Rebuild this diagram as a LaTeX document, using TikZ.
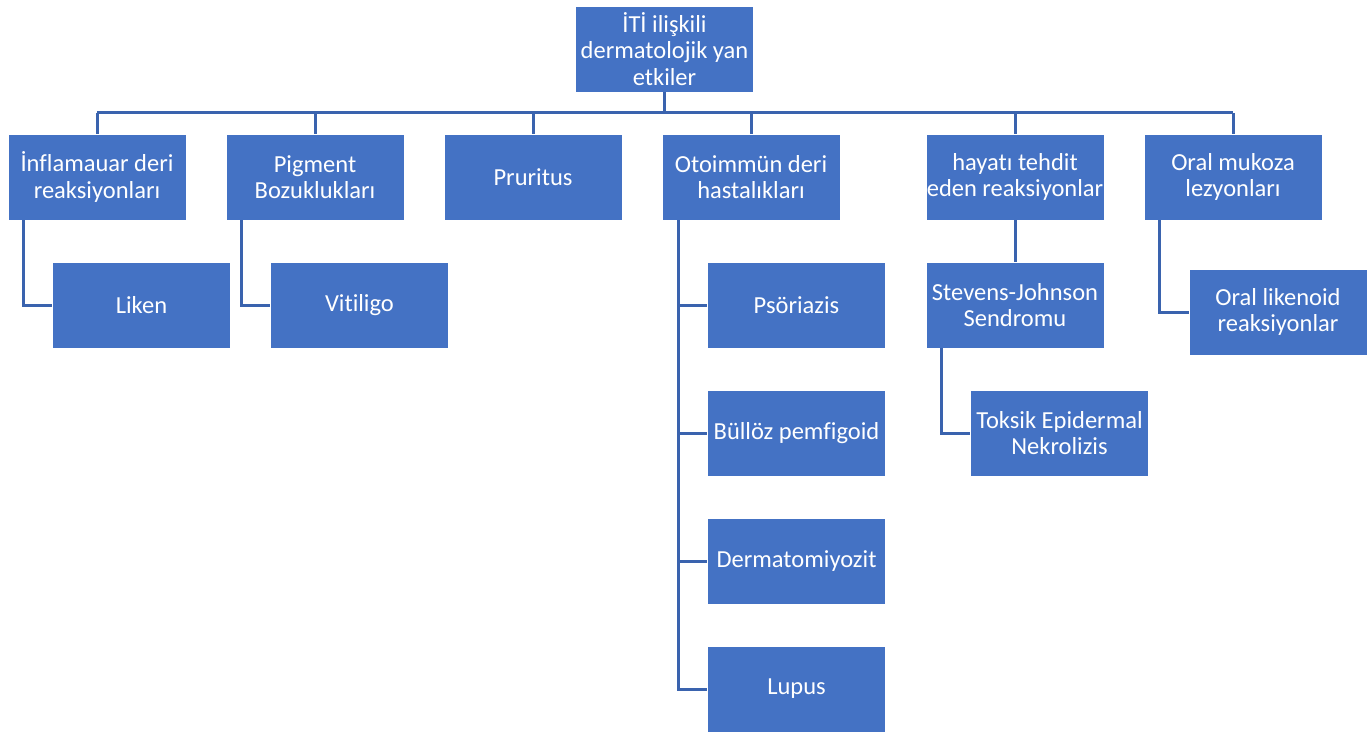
\documentclass[tikz,border=0pt]{standalone}
\usepackage{fontspec}
\setmainfont[Ligatures=NoCommon]{Carlito}
\usetikzlibrary{calc}
\definecolor{boxblue}{HTML}{4472C4}
\definecolor{linkblue}{HTML}{3A63AE}
\tikzset{
  box/.style={fill=boxblue, draw=white, line width=0.8pt, text=white, minimum width=178pt, minimum height=86pt, inner sep=0pt, align=center, font=\fontsize{24.5}{26.5}\selectfont},
  conn/.style={draw=linkblue, line width=3pt}
}
\begin{document}
\begin{tikzpicture}[x=1pt,y=-1pt]
\useasboundingbox (0,0) rectangle (1372,735);
\node[box] (top) at (664.5,49) {İTİ ilişkili\\dermatolojik yan\\etkiler};
\node[box] (c1) at (97,177) {İnflamauar deri\\reaksiyonları};
\node[box] (c2) at (315,177) {Pigment\\Bozuklukları};
\node[box] (c3) at (533,177) {Pruritus};
\node[box] (c4) at (751,177) {Otoimmün deri\\hastalıkları};
\node[box] (c5) at (1015,177) {hayatı tehdit\\eden reaksiyonlar};
\node[box] (c6) at (1233,177) {Oral mukoza\\lezyonları};
\node[box] (liken) at (141.5,305) {Liken};
\node[box] (viti) at (359.5,305) {Vitiligo};
\node[box] (psor) at (796.5,305) {Psöriazis};
\node[box] (bull) at (796.5,433) {Büllöz pemfigoid};
\node[box] (derm) at (796.5,561) {Dermatomiyozit};
\node[box] (lupus) at (796.5,689) {Lupus};
\node[box] (sjs) at (1015,305) {Stevens-Johnson\\Sendromu};
\node[box] (ten) at (1059.5,433) {Toksik Epidermal\\Nekrolizis};
\node[box] (olr) at (1278,312) {Oral likenoid\\reaksiyonlar};
\coordinate (bus) at (0,113);
\draw[conn] (top.south) -- (top.south |- bus);
\draw[conn] (c1.north |- bus) -- (c6.north |- bus);
\foreach \n in {c1,c2,c3,c4,c5,c6} \draw[conn] (\n.north |- bus) -- (\n.north);
\draw[conn] ($(c1.south west)+(16,0)$) |- (liken.west);
\draw[conn] ($(c2.south west)+(16,0)$) |- (viti.west);
\coordinate (sp) at ($(c4.south west)+(17,0)$);
\draw[conn] (sp) |- (lupus.west);
\foreach \n in {psor,bull,derm} \draw[conn] (sp |- \n.west) -- (\n.west);
\draw[conn] (c5.south) -- (sjs.north);
\draw[conn] ($(sjs.south west)+(16,0)$) |- (ten.west);
\draw[conn] ($(c6.south west)+(16,0)$) |- (olr.west);
\end{tikzpicture}
\end{document}
